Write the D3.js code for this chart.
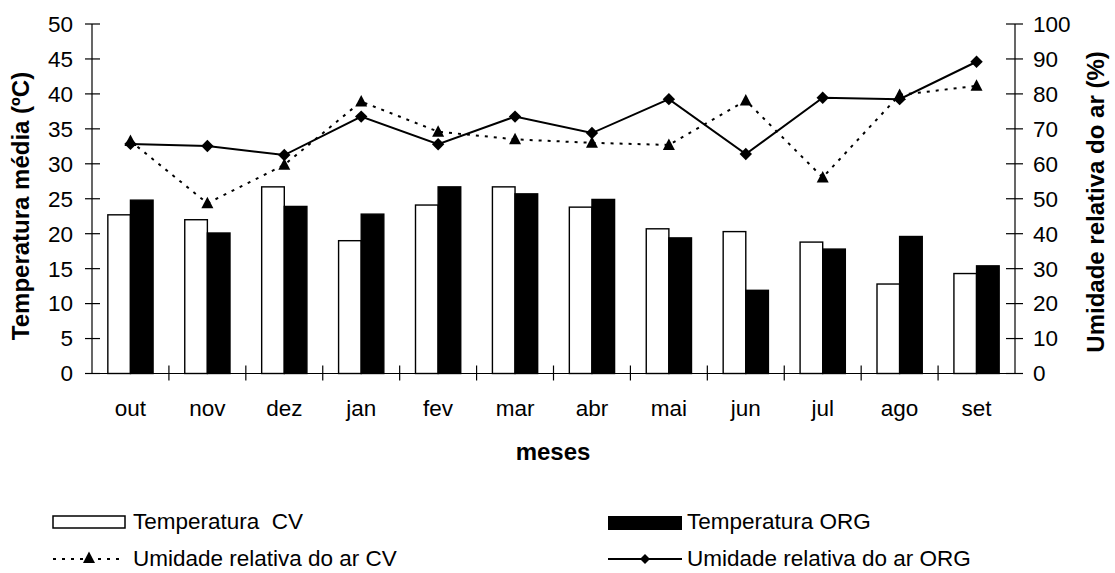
<!DOCTYPE html>
<html>
<head>
<meta charset="utf-8">
<script src="https://cdn.jsdelivr.net/npm/d3@7"></script>
<style>
  html, body { margin: 0; padding: 0; background: #fff; }
  svg { display: block; font-family: "Liberation Sans", Arial, sans-serif; }
</style>
</head>
<body>
<svg id="chart" width="1115" height="573"></svg>
<script>
const months = ["out","nov","dez","jan","fev","mar","abr","mai","jun","jul","ago","set"];
const tempCV  = [22.7, 22.0, 26.7, 19.0, 24.1, 26.7, 23.8, 20.7, 20.3, 18.8, 12.8, 14.3];
const tempORG = [24.8, 20.1, 23.9, 22.8, 26.7, 25.7, 24.9, 19.4, 11.9, 17.8, 19.6, 15.4];
const urCV    = [66.5, 48.7, 59.7, 77.8, 69.2, 67.0, 66.0, 65.4, 78.1, 56.1, 79.7, 82.3];
const urORG   = [65.7, 65.1, 62.5, 73.5, 65.6, 73.5, 68.8, 78.5, 62.8, 78.9, 78.5, 89.2];
const leftTicks  = [0,5,10,15,20,25,30,35,40,45,50];
const rightTicks = [0,10,20,30,40,50,60,70,80,90,100];

const svg = d3.select("#chart");
svg.append("rect").attr("width",1115).attr("height",573).attr("fill","#fff");

const x0 = 92, x1 = 1015, yTop = 24, yBot = 373.5;
const x = d3.scaleBand().domain(months).range([x0, x1]).padding(0);
const groupW = x.bandwidth() / 1.7;
const xs = d3.scaleBand().domain(["CV","ORG"]).range([0, groupW]).padding(0);
const yL = d3.scaleLinear().domain([0,50]).range([yBot, yTop]);
const yR = d3.scaleLinear().domain([0,100]).range([yBot, yTop]);

// bars
const g = svg.append("g");
months.forEach((m,i) => {
  const gx = x(m) + (x.bandwidth() - groupW)/2;
  g.append("rect")
    .attr("x", gx + xs("CV")).attr("y", yL(tempCV[i]))
    .attr("width", xs.bandwidth()).attr("height", yL(0) - yL(tempCV[i]))
    .attr("fill","#fff").attr("stroke","#000").attr("stroke-width",1.4);
  g.append("rect")
    .attr("x", gx + xs("ORG")).attr("y", yL(tempORG[i]))
    .attr("width", xs.bandwidth()).attr("height", yL(0) - yL(tempORG[i]))
    .attr("fill","#000").attr("stroke","#000").attr("stroke-width",1.4);
});

// axes
const axes = svg.append("g").attr("stroke","#000").attr("stroke-width",1.2);
axes.append("line").attr("x1",x0).attr("x2",x0).attr("y1",yTop).attr("y2",yBot);
axes.append("line").attr("x1",x1).attr("x2",x1).attr("y1",yTop).attr("y2",yBot);
axes.append("line").attr("x1",x0).attr("x2",x1).attr("y1",yBot).attr("y2",yBot);
leftTicks.forEach(t => axes.append("line").attr("x1",x0-7).attr("x2",x0+8).attr("y1",yL(t)).attr("y2",yL(t)));
rightTicks.forEach(t => axes.append("line").attr("x1",x1-9).attr("x2",x1+8).attr("y1",yR(t)).attr("y2",yR(t)));
months.forEach((m,i) => {
  if (i > 0) axes.append("line").attr("x1",x(m)).attr("x2",x(m)).attr("y1",yBot-8).attr("y2",yBot+7);
});

const fs = 22.5;
svg.append("g").selectAll("text").data(leftTicks).join("text")
  .attr("x", 73).attr("y", d => yL(d)).attr("dy","0.35em")
  .attr("text-anchor","end").attr("font-size",fs).text(d => d);
svg.append("g").selectAll("text").data(rightTicks).join("text")
  .attr("x", 1033).attr("y", d => yR(d)).attr("dy","0.35em")
  .attr("text-anchor","start").attr("font-size",fs).text(d => d);
svg.append("g").selectAll("text").data(months).join("text")
  .attr("x", d => x(d) + x.bandwidth()/2).attr("y", 416)
  .attr("text-anchor","middle").attr("font-size",fs).text(d => d);

// titles
const tfs = 24;
svg.append("text").attr("transform","translate(29,206) rotate(-90)")
  .attr("text-anchor","middle").attr("font-size",tfs).attr("font-weight","bold")
  .text("Temperatura média (ºC)");
svg.append("text").attr("transform","translate(1104,202) rotate(-90)")
  .attr("text-anchor","middle").attr("font-size",tfs).attr("font-weight","bold")
  .text("Umidade relativa do ar (%)");
svg.append("text").attr("x",553).attr("y",460)
  .attr("text-anchor","middle").attr("font-size",tfs).attr("font-weight","bold")
  .text("meses");

// lines
const cx = m => x(m) + x.bandwidth()/2;
const line = d3.line().x((d,i) => cx(months[i])).y(d => yR(d));
svg.append("path").attr("d", line(urCV)).attr("fill","none")
  .attr("stroke","#000").attr("stroke-width",2).attr("stroke-dasharray","3,6");
svg.append("path").attr("d", line(urORG)).attr("fill","none")
  .attr("stroke","#000").attr("stroke-width",2);

const tri = "M0,-6.5L6,5L-6,5Z";
const dia = (s) => `M0,${-s}L${s},0L0,${s}L${-s},0Z`;
svg.append("g").selectAll("path").data(urORG).join("path")
  .attr("transform",(d,i) => `translate(${cx(months[i])},${yR(d)})`)
  .attr("d", dia(6.2)).attr("fill","#000");
svg.append("g").selectAll("path").data(urCV).join("path")
  .attr("transform",(d,i) => `translate(${cx(months[i])},${yR(d)})`)
  .attr("d", tri).attr("fill","#000");

// legend
const leg = svg.append("g");
leg.append("rect").attr("x",53).attr("y",516).attr("width",72).attr("height",12)
  .attr("fill","#fff").attr("stroke","#000").attr("stroke-width",1.5);
leg.append("text").attr("x",133).attr("y",529).attr("font-size",fs)
  .style("white-space","pre").text("Temperatura  CV");
leg.append("rect").attr("x",608).attr("y",516).attr("width",74).attr("height",14)
  .attr("fill","#000");
leg.append("text").attr("x",687).attr("y",529).attr("font-size",fs).text("Temperatura ORG");
leg.append("line").attr("x1",53).attr("x2",125).attr("y1",559).attr("y2",559)
  .attr("stroke","#000").attr("stroke-width",2).attr("stroke-dasharray","3,6");
leg.append("path").attr("transform","translate(89,558)").attr("d",tri).attr("fill","#000");
leg.append("text").attr("x",133).attr("y",566).attr("font-size",fs).text("Umidade relativa do ar CV");
leg.append("line").attr("x1",608).attr("x2",682).attr("y1",559).attr("y2",559)
  .attr("stroke","#000").attr("stroke-width",2);
leg.append("path").attr("transform","translate(645,559)").attr("d",dia(5)).attr("fill","#000");
leg.append("text").attr("x",687).attr("y",566).attr("font-size",fs).text("Umidade relativa do ar ORG");
</script>
</body>
</html>
